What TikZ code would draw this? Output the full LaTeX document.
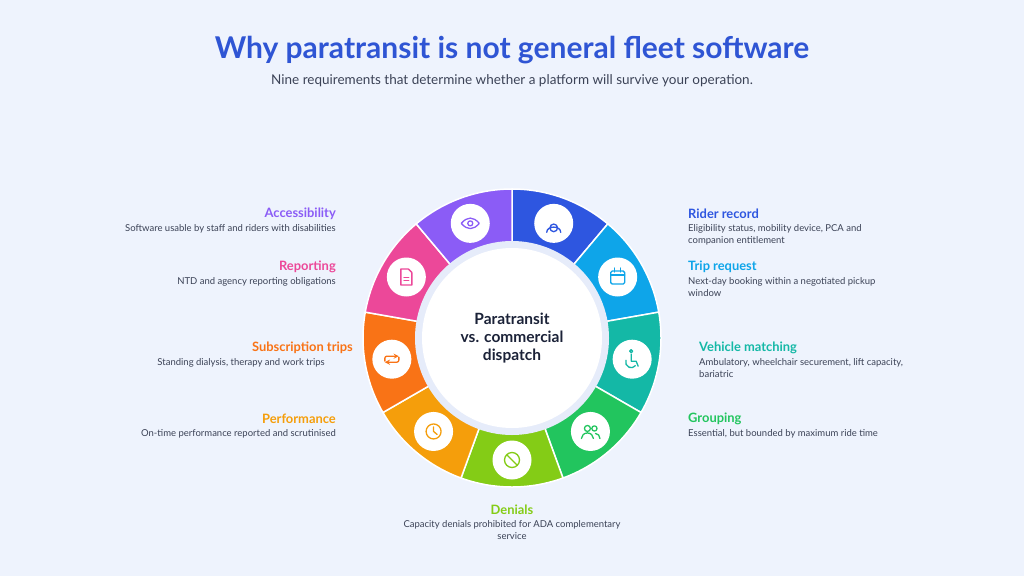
\documentclass[tikz,border=0pt]{standalone}
\usepackage{fontspec}
\setmainfont{Lato}
\usetikzlibrary{calc}
\definecolor{bg}{HTML}{EEF3FD}
\definecolor{titleblue}{HTML}{2F55D4}
\definecolor{ink}{HTML}{3B4256}
\definecolor{dark}{HTML}{1B2238}
\definecolor{ringbg}{HTML}{E6ECFA}
\definecolor{cA}{HTML}{2E56E0}
\definecolor{cB}{HTML}{0EA5E9}
\definecolor{cC}{HTML}{14B8A6}
\definecolor{cD}{HTML}{22C55E}
\definecolor{cE}{HTML}{84CC16}
\definecolor{cF}{HTML}{F59E0B}
\definecolor{cG}{HTML}{F97316}
\definecolor{cH}{HTML}{EC4899}
\definecolor{cI}{HTML}{8B5CF6}
\tikzset{
  head/.style={font=\fontsize{12.9}{15}\selectfont\bfseries,inner sep=0pt},
  desc/.style={font=\fontsize{9.5}{12.5}\selectfont,text=ink,inner sep=0pt},
  ico/.style={line width=1.3pt,line cap=round,line join=round},
}
\begin{document}
\begin{tikzpicture}[x=1pt,y=-1pt]
\fill[bg](0,0)rectangle(1024,576);
\useasboundingbox(0,0)rectangle(1024,576);
\node[font=\fontsize{30}{33}\selectfont\bfseries,text=titleblue](title)at(512,50){Why paratransit is not general fleet software};
\node[font=\fontsize{13.5}{15}\selectfont,text=ink](sub)at(512,81){Nine requirements that determine whether a platform will survive your operation.};
\coordinate(o)at(512,338);
% ring segments
\foreach \a/\c in {70/cA,30/cB,-10/cC,-50/cD,-90/cE,-130/cF,-170/cG,150/cH,110/cI}
  \fill[\c,draw=white,line width=1.5pt](o)--($(o)+(-\a+20:149)$)arc(-\a+20:-\a-20:149)--cycle;
\fill[ringbg](o)circle(97);
\fill[white](o)circle(90);
\node[align=center,font=\fontsize{15.5}{18}\selectfont\bfseries,text=dark](hub)at(512,338){Paratransit\\vs. commercial\\dispatch};
% icon discs
\foreach \a/\n in {70/i1,30/i2,-10/i3,-50/i4,-90/i5,-130/i6,-170/i7,150/i8,110/i9}{
  \coordinate(\n)at($(o)+(-\a:122)$);
  \fill[white](\n)circle(19.5);
}
% icons
\draw[ico,cA]([yshift=-4.5]i1)circle(3.8) ([shift={(-7,9)}]i1)..controls([shift={(-7,2)}]i1)and([shift={(7,2)}]i1)..([shift={(7,9)}]i1);
\draw[ico,cB,rounded corners=1.5]([shift={(-7,-6)}]i2)rectangle([shift={(7,7)}]i2);
\draw[ico,cB]([shift={(-7,-2)}]i2)--([shift={(7,-2)}]i2) ([shift={(-3,-9)}]i2)--([shift={(-3,-5)}]i2) ([shift={(3,-9)}]i2)--([shift={(3,-5)}]i2);
\draw[ico,cC]([shift={(-1,-8)}]i3)circle(1.5) ([shift={(-1,-5)}]i3)--([shift={(-1,2)}]i3)--([shift={(4,2)}]i3)--([shift={(6,7)}]i3);
\draw[ico,cC]([shift={(-6.2,1.1)}]i3)arc(200:40:5.5);
\draw[ico,cD]([shift={(-3,-3)}]i4)circle(3) ([shift={(4,-3)}]i4)circle(2.6) ([shift={(-9,7)}]i4)arc(180:360:6 and 5.5) ([shift={(5,2)}]i4)arc(270:360:4.5 and 5);
\draw[ico,cE](i5)circle(7.5) ([shift={(-5.3,-5.3)}]i5)--([shift={(5.3,5.3)}]i5);
\draw[ico,cF](i6)circle(7.5) ([shift={(0,-4.5)}]i6)--(i6)--([shift={(3.5,3)}]i6);
\draw[ico,cG,->,>=stealth,rounded corners=2]([shift={(-7,2)}]i7)--([shift={(-7,-3)}]i7)--([shift={(7,-3)}]i7);
\draw[ico,cG,->,>=stealth,rounded corners=2]([shift={(7,-2)}]i7)--([shift={(7,3)}]i7)--([shift={(-7,3)}]i7);
\draw[ico,cH]([shift={(-5.5,-8)}]i8)--([shift={(2,-8)}]i8)--([shift={(5.5,-4.5)}]i8)--([shift={(5.5,8)}]i8)--([shift={(-5.5,8)}]i8)--cycle;
\draw[ico,cH,line width=1pt]([shift={(-2.5,0)}]i8)--([shift={(2.5,0)}]i8) ([shift={(-2.5,3.5)}]i8)--([shift={(2.5,3.5)}]i8);
\draw[ico,cI]([xshift=-9]i9)..controls([shift={(-3,-7)}]i9)and([shift={(3,-7)}]i9)..([xshift=9]i9)..controls([shift={(3,7)}]i9)and([shift={(-3,7)}]i9)..cycle;
\draw[ico,cI](i9)circle(2.5);
% labels right
\node[head,text=cA,anchor=west](l1)at(688,214){Rider record};
\node[desc,anchor=north west,align=left](d1)at(688,224){Eligibility status, mobility device, PCA and\\companion entitlement};
\node[head,text=cB,anchor=west](l2)at(688,267){Trip request};
\node[desc,anchor=north west,align=left](d2)at(688,277){Next-day booking within a negotiated pickup\\window};
\node[head,text=cC,anchor=west](l3)at(699,348){Vehicle matching};
\node[desc,anchor=north west,align=left](d3)at(699,358){Ambulatory, wheelchair securement, lift capacity,\\bariatric};
\node[head,text=cD,anchor=west](l4)at(688,419){Grouping};
\node[desc,anchor=north west,align=left](d4)at(688,429){Essential, but bounded by maximum ride time};
% labels left
\node[head,text=cI,anchor=east](l9)at(336,214){Accessibility};
\node[desc,anchor=north east,align=right](d9)at(336,224){Software usable by staff and riders with disabilities};
\node[head,text=cH,anchor=east](l8)at(336,267){Reporting};
\node[desc,anchor=north east,align=right](d8)at(336,277){NTD and agency reporting obligations};
\node[head,text=cG,anchor=east](l7)at(353,348){Subscription trips};
\node[desc,anchor=north east,align=right](d7)at(325,358){Standing dialysis, therapy and work trips};
\node[head,text=cF,anchor=east](l6)at(336,419){Performance};
\node[desc,anchor=north east,align=right](d6)at(336,429){On-time performance reported and scrutinised};
% bottom
\node[head,text=cE](l5)at(512,510){Denials};
\node[desc,anchor=north,align=center](d5)at(512,520){Capacity denials prohibited for ADA complementary\\service};
\end{tikzpicture}
\end{document}
